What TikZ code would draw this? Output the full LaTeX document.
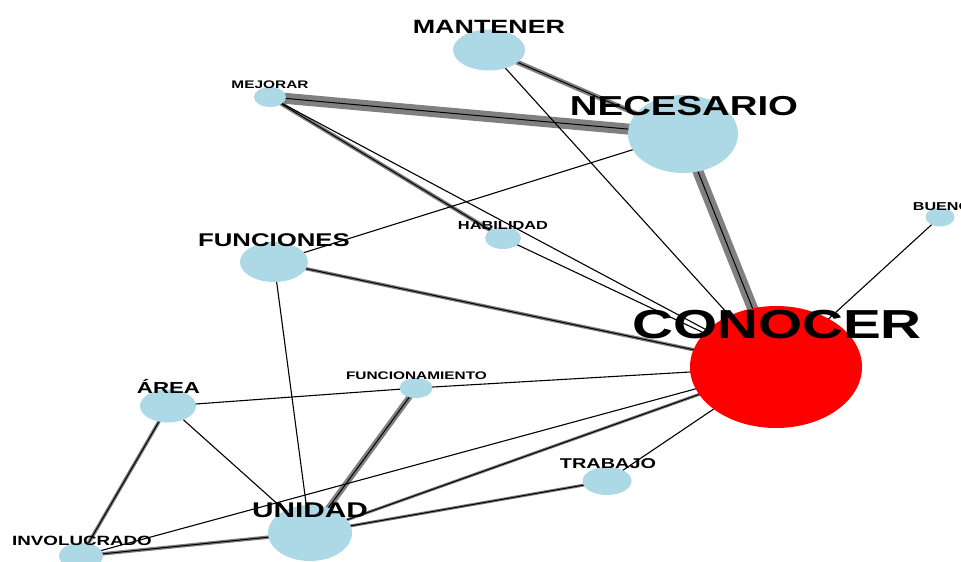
\documentclass[tikz,border=0pt]{standalone}
\usepackage{fontspec}
\newfontfamily\netfont{Liberation Sans}[FakeStretch=1.4]
\usetikzlibrary{shapes.geometric}
\pgfdeclarelayer{background}
\pgfsetlayers{background,main}
\definecolor{vertexblue}{RGB}{173,216,230}
\definecolor{edgegray}{RGB}{128,128,128}

\begin{document}
\begin{tikzpicture}[x=1pt, y=-1pt,
    % Styles
    vertex/.style args={#1/#2}{ellipse, fill=vertexblue, inner sep=0pt, minimum width=#1pt, minimum height=#2pt},
    word/.style={font=\netfont\bfseries\fontsize{#1}{#1}\selectfont, inner sep=0pt, anchor=center},
    link/.style={draw=black, line width=1.1pt},
    strong/.style={preaction={draw=edgegray, line width=#1}, draw=black, line width=1pt},
]
\useasboundingbox (0,0) rectangle (961,562);

% Vertices
\node[vertex={72/41}] (mantener) at (489,50) {};
\node[vertex={32/20}] (mejorar) at (270,97) {};
\node[vertex={110/78}] (necesario) at (683,134) {};
\node[vertex={29/19}] (bueno) at (940,217) {};
\node[vertex={36/22}] (habilidad) at (503,238) {};
\node[vertex={68/40}] (funciones) at (274,262) {};
\node[vertex={172/122}, fill=red] (conocer) at (776,367) {};
\node[vertex={56/33}] (area) at (168,406) {};
\node[vertex={33/20}] (funcionamiento) at (416,388) {};
\node[vertex={49/28}] (trabajo) at (607,481) {};
\node[vertex={84/56}] (unidad) at (310,533) {};
\node[vertex={44/27}] (involucrado) at (81,556) {};

% Edges behind the vertices
\begin{pgfonlayer}{background}
    \draw[strong=11pt] (mejorar.center) -- (necesario.center);
    \draw[strong=11pt] (necesario.center) -- (conocer.center);
    \draw[strong=6pt] (funcionamiento.center) -- (unidad.center);
    \draw[strong=5pt] (mantener.center) -- (necesario.center);
    \draw[strong=4pt] (mejorar.center) -- (habilidad.center);
    \draw[strong=3.5pt] (funciones.center) -- (conocer.center);
    \draw[strong=3.5pt] (area.center) -- (involucrado.center);
    \draw[strong=3.5pt] (involucrado.center) -- (unidad.center);
    \draw[strong=3pt] (unidad.center) -- (conocer.center);
    \draw[strong=3pt] (unidad.center) -- (trabajo.center);
    \draw[link] (mantener.center) -- (conocer.center);
    \draw[link] (mejorar.center) -- (conocer.center);
    \draw[link] (habilidad.center) -- (conocer.center);
    \draw[link] (funciones.center) -- (necesario.center);
    \draw[link] (funciones.center) -- (unidad.center);
    \draw[link] (bueno.center) -- (conocer.center);
    \draw[link] (area.center) -- (funcionamiento.center);
    \draw[link] (funcionamiento.center) -- (conocer.center);
    \draw[link] (area.center) -- (unidad.center);
    \draw[link] (involucrado.center) -- (conocer.center);
    \draw[link] (trabajo.center) -- (conocer.center);
\end{pgfonlayer}

% Labels
\node[word=40.5] (conocer-label) at (777,325) {CONOCER};
\node[word=27.4] (necesario-label) at (684,106) {NECESARIO};
\node[word=19.2] (mantener-label) at (489,27) {MANTENER};
\node[word=11] (mejorar-label) at (270,85) {MEJORAR};
\node[word=11.7] (habilidad-label) at (503,225) {HABILIDAD};
\node[word=18.4] (funciones-label) at (274,240) {FUNCIONES};
\node[word=11] (funcionamiento-label) at (416.5,376) {FUNCIONAMIENTO};
\node[word=14.2] (trabajo-label) at (608,464) {TRABAJO};
\node[word=15.9, anchor=base] (area-label) at (168.5,393.5) {ÁREA};
\node[word=21.3] (unidad-label) at (310,510) {UNIDAD};
\node[word=13.4] (involucrado-label) at (82,541) {INVOLUCRADO};
\node[word=11.5] (bueno-label) at (942,207) {BUENO};

\end{tikzpicture}
\end{document}
